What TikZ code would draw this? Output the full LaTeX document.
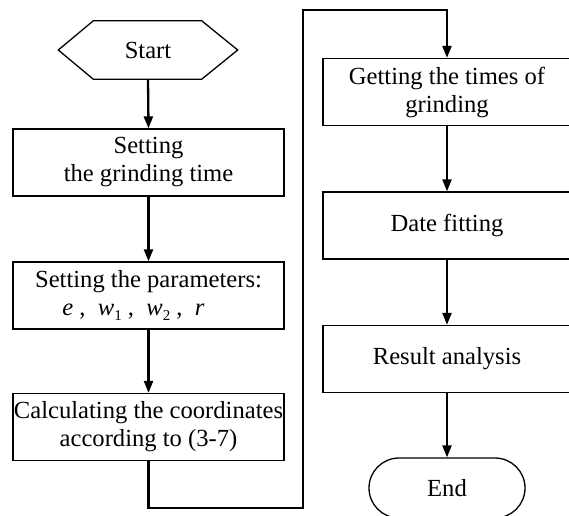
\documentclass[tikz,border=0pt]{standalone}
\usepackage{fontspec}
\setmainfont{Liberation Serif}
\usetikzlibrary{arrows.meta,calc,shapes.misc}
\tikzset{
  every node/.style={font=\fontsize{24.6}{28}\selectfont, align=center, inner sep=0pt},
  procbox/.style={draw, line width=1.3pt, minimum height=67pt},
  leftbox/.style={procbox, minimum width=271pt},
  rightbox/.style={procbox, minimum width=248pt},
  conn/.style={line width=2.3pt, -{Triangle[length=12pt,width=9pt]}},
}
\newcommand{\subidx}[1]{\raisebox{-0.4ex}{\fontsize{15}{15}\selectfont #1}}
\begin{document}
\begin{tikzpicture}[x=1pt,y=-1pt]
\useasboundingbox (0,0) rectangle (569,515);

% terminal shapes
\node[minimum width=179pt, minimum height=58pt] (start) at (148,50) {Start};
\draw[line width=1.3pt] (start.west) -- ($(start.north west)+(35,0)$) -- ($(start.north east)+(-36,0)$)
  -- (start.east) -- ($(start.south east)+(-36,0)$) -- ($(start.south west)+(35,0)$) -- cycle;

% left column
\node[leftbox] (settime) at (148.5,162.5) {Setting\\the grinding time};
\node[leftbox] (setpar) at (148.5,295.5) {Setting the parameters:\\
  \textit{e} ,\enspace \textit{w}\subidx{1} ,\enspace \textit{w}\subidx{2} ,\enspace \textit{r}\hspace*{30pt}};
\node[leftbox] (calc) at (148.5,427) {Calculating the coordinates\\according to (3-7)};

% right column
\node[rightbox] (times) at (447,92) {Getting the times of\\grinding};
\node[rightbox] (fit) at (447,225.5) {Date fitting};
\node[rightbox] (result) at (447,359) {Result analysis};
\node[draw, line width=1.3pt, rounded rectangle, minimum width=156pt, minimum height=60pt] (end) at (447,488) {End};

% connectors
\draw[conn] (start.south) -- (settime.north);
\draw[conn] (settime.south) -- (setpar.north);
\draw[conn] (setpar.south) -- (calc.north);
\coordinate (lowturn) at (303,508);
\coordinate (highturn) at (303,10);
\draw[conn] (calc.south) |- (lowturn) -- (highturn) -| (times.north);
\draw[conn] (times.south) -- (fit.north);
\draw[conn] (fit.south) -- (result.north);
\draw[conn] (result.south) -- (end.north);
\end{tikzpicture}
\end{document}
